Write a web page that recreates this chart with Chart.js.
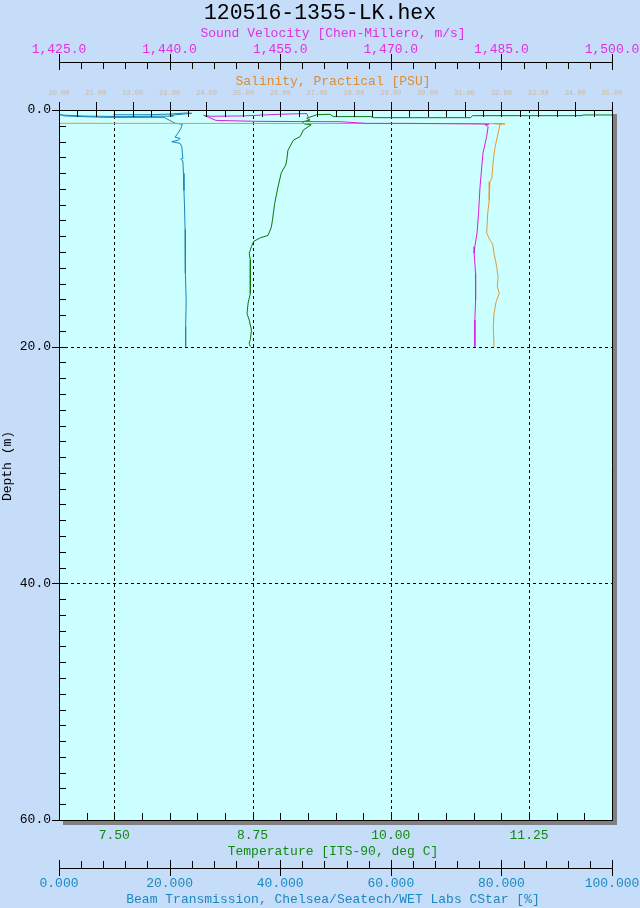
<!DOCTYPE html>
<html>
<head>
<meta charset="utf-8">
<title>120516-1355-LK.hex</title>
<script src="https://cdn.jsdelivr.net/npm/chart.js@4.4.1/dist/chart.umd.min.js"></script>
<style>
  html, body { margin: 0; padding: 0; background: #c5ddf9; }
  canvas { display: block; }
</style>
</head>
<body>
<canvas id="ctdChart" width="640" height="908"></canvas>
<script>
// Profiles: depth (m) and the value at that depth
const beamDepth = [0.40, 0.40, 0.34, 0.25, 0.28, 0.45, 0.51, 0.56, 0.51, 0.42, 0.34, 0.50, 0.62, 0.62, 1.00, 1.12, 1.20, 1.60,
    2.30, 2.40, 2.54, 2.68, 2.82, 3.10, 4.10, 4.15, 4.30, 5.35, 6.80, 8.20, 10.1, 11.8, 13.8, 16.1, 18.3, 20.0];
const beamValue = [9.8, 16.5, 20.1, 23.1, 24.0, 20.0, 20.7, 11.6, 4.4, 0.2, 0.0, 1.0, 8.0, 19.0, 20.5, 21.0, 22.3, 22.0,
    21.0, 21.9, 21.6, 20.4, 21.9, 22.2, 22.4, 22.0, 22.4, 22.5, 22.6, 22.7, 22.8, 22.8, 22.9, 23.0, 22.9, 22.9];

const tempDepth = [0.42, 0.42, 0.48, 0.48, 0.65, 0.65, 0.56, 0.56, 0.36, 0.40, 0.70, 0.85, 1.00, 1.18, 1.25, 1.69, 2.25,
    2.54, 3.40, 4.20, 4.65, 5.30, 6.50, 7.90, 9.30, 9.90, 10.6, 10.8, 11.1, 11.55, 12.1, 12.7, 13.8, 15.5, 16.3, 17.2,
    17.75, 18.6, 19.4, 19.7, 20.0];
const tempValue = [12.0, 11.74, 11.72, 10.74, 10.72, 9.85, 9.82, 9.48, 9.45, 9.33, 9.24, 9.27, 9.20, 9.22, 9.28, 9.21, 9.18,
    9.12, 9.07, 9.06, 9.05, 9.01, 8.98, 8.95, 8.93, 8.92, 8.89, 8.82, 8.76, 8.74, 8.72, 8.73, 8.73, 8.73, 8.71, 8.70,
    8.72, 8.74, 8.73, 8.72, 8.73];

const salDepth = [1.12, 1.15, 1.16, 1.14, 1.18, 1.15, 1.20, 1.27, 1.97, 3.10, 4.20, 5.80, 6.05, 7.60, 8.70, 10.4, 11.0,
    11.3, 12.1, 13.2, 14.1, 14.9, 15.5, 16.3, 17.2, 18.3, 20.0];
const salValue = [18.0, 31.4, 31.6, 31.9, 32.1, 31.8, 32.0, 31.96, 31.91, 31.83, 31.78, 31.74, 31.69, 31.67, 31.63, 31.60,
    31.69, 31.76, 31.80, 31.87, 31.91, 31.89, 31.94, 31.85, 31.80, 31.78, 31.80];

const svDepth = [0.62, 0.30, 0.36, 0.50, 0.53, 0.45, 0.62, 0.88, 0.96, 0.99, 1.13, 1.13, 1.18, 1.20, 1.25, 1.40, 2.25,
    3.66, 5.07, 6.50, 8.73, 10.4, 11.55, 12.1, 13.8, 16.06, 17.75, 20.0];
const svValue = [1458.8, 1458.6, 1455.0, 1450.0, 1445.5, 1444.6, 1445.3, 1446.3, 1452.0, 1463.1, 1466.7, 1472.6, 1482.1,
    1483.3, 1482.8, 1483.2, 1483.0, 1482.5, 1482.3, 1482.1, 1481.9, 1481.7, 1481.4, 1481.3, 1481.5, 1481.5, 1481.4, 1481.4];

// Axes: ranges, labelled ticks and minor tick spacing
const depthRange = [0, 60], depthMinor = 20 / 15;
const depthTicks = [0, 20, 40, 60];
const depthLabels = ['0.0', '20.0', '40.0', '60.0'];

const svRange = [1425, 1500], svMinor = 3;
const svTicks = [1425, 1440, 1455, 1470, 1485, 1500];
const svLabels = ['1,425.0', '1,440.0', '1,455.0', '1,470.0', '1,485.0', '1,500.0'];

const salRange = [20, 35], salMinor = 0.5;
const salTicks = [20, 21, 22, 23, 24, 25, 26, 27, 28, 29, 30, 31, 32, 33, 34, 35];
const salLabels = salTicks.map(v => v.toFixed(2));

const tempRange = [7, 12], tempMinor = 0.25;
const tempTicks = [7.5, 8.75, 10, 11.25];
const tempLabels = ['7.50', '8.75', '10.00', '11.25'];

const beamRange = [0, 100], beamMinor = 4;
const beamTicks = [0, 20, 40, 60, 80, 100];
const beamLabels = ['0.000', '20.000', '40.000', '60.000', '80.000', '100.000'];

const PAGE_BG = '#c5ddf9';
const PLOT_BG = '#ccffff';
const SV_COLOR = '#e030e0';
const SAL_COLOR = '#e08c30';
const TEMP_COLOR = '#108a10';
const BEAM_COLOR = '#1a88c0';
const MONO = "'Liberation Mono', 'DejaVu Sans Mono', monospace";

function toPoints(depths, values) {
    return depths.map((d, i) => ({ x: values[i], y: d }));
}

function steps(range, step) {
    const out = [];
    const n = Math.round((range[1] - range[0]) / step);
    for (let i = 0; i <= n; i++) out.push(range[0] + i * step);
    return out;
}

function vLine(ctx, x, y1, y2) {
    const px = Math.round(x) + 0.5;
    ctx.beginPath();
    ctx.moveTo(px, y1);
    ctx.lineTo(px, y2);
    ctx.stroke();
}

function hLine(ctx, x1, x2, y) {
    const py = Math.round(y) + 0.5;
    ctx.beginPath();
    ctx.moveTo(x1, py);
    ctx.lineTo(x2, py);
    ctx.stroke();
}

function text(ctx, str, x, y, color, size, align) {
    ctx.fillStyle = color;
    ctx.font = size + 'px ' + MONO;
    ctx.textAlign = align || 'center';
    ctx.textBaseline = 'middle';
    ctx.fillText(str, x, y);
}

// Horizontal axis with ticks on a line (top sound velocity, bottom beam)
function lineAxis(ctx, scale, area, y0, minor, ticks, labels, dir, labelY, color) {
    hLine(ctx, area.left, area.right + 1, y0);
    steps([scale.min, scale.max], minor).forEach(v => vLine(ctx, scale.getPixelForValue(v), y0, y0 + dir * 7));
    ticks.forEach((v, i) => {
        const x = scale.getPixelForValue(v);
        vLine(ctx, x, y0 - 8, y0 + 8);
        text(ctx, labels[i], x, labelY, color, 13);
    });
}

const ctdAxes = {
    id: 'ctdAxes',
    beforeDraw(chart) {
        const { ctx, chartArea: area } = chart;
        const w = area.right - area.left, h = area.bottom - area.top;
        ctx.save();
        ctx.fillStyle = PAGE_BG;
        ctx.fillRect(0, 0, chart.width, chart.height);
        ctx.fillStyle = '#808080';   // drop shadow
        ctx.fillRect(area.left + 4, area.top + 4, w + 1, h + 1);
        ctx.fillStyle = PLOT_BG;
        ctx.fillRect(area.left, area.top, w, h);
        ctx.restore();
    },
    beforeDatasetsDraw(chart) {
        const { ctx, chartArea: area, scales } = chart;
        ctx.save();
        ctx.strokeStyle = '#000';
        ctx.lineWidth = 1;
        ctx.setLineDash([3, 3]);
        tempTicks.forEach(v => vLine(ctx, scales.xTemp.getPixelForValue(v), area.top, area.bottom));
        depthTicks.slice(1, -1).forEach(v => hLine(ctx, area.left, area.right, scales.y.getPixelForValue(v)));
        ctx.restore();
    },
    afterDatasetsDraw(chart) {
        const { ctx, chartArea: area, scales } = chart;
        ctx.save();
        ctx.strokeStyle = '#000';
        ctx.lineWidth = 1;

        // frame
        hLine(ctx, area.left, area.right + 1, area.top);
        hLine(ctx, area.left, area.right + 1, area.bottom);
        vLine(ctx, area.left, area.top, area.bottom + 1);
        vLine(ctx, area.right, area.top, area.bottom + 1);

        // depth axis
        const y = scales.y;
        steps(depthRange, depthMinor).forEach(v => hLine(ctx, area.left, area.left + 7, y.getPixelForValue(v)));
        depthTicks.forEach((v, i) => {
            const py = y.getPixelForValue(v);
            hLine(ctx, area.left - 7, area.left, py);
            text(ctx, depthLabels[i], area.left - 8, py, '#000', 13, 'right');
        });
        ctx.save();
        ctx.translate(8, 466);
        ctx.rotate(-Math.PI / 2);
        text(ctx, 'Depth (m)', 0, 0, '#000', 13);
        ctx.restore();

        // sound velocity (top line axis)
        lineAxis(ctx, scales.xSv, area, 62, svMinor, svTicks, svLabels, 1, 50, SV_COLOR);

        // salinity (on the top edge of the plot)
        const sal = scales.xSal;
        steps(salRange, salMinor).forEach(v => vLine(ctx, sal.getPixelForValue(v), area.top, area.top + 7));
        salTicks.forEach((v, i) => {
            const x = sal.getPixelForValue(v);
            vLine(ctx, x, area.top - 8, area.top + 7);
            text(ctx, salLabels[i], x, 93, '#c9b8a6', 7);
        });

        // temperature (on the bottom edge of the plot)
        const temp = scales.xTemp;
        steps(tempRange, tempMinor).forEach(v => vLine(ctx, temp.getPixelForValue(v), area.bottom - 7, area.bottom));
        tempTicks.forEach((v, i) => text(ctx, tempLabels[i], temp.getPixelForValue(v), 836, TEMP_COLOR, 13));

        // beam transmission (bottom line axis)
        lineAxis(ctx, scales.xBeam, area, 868, beamMinor, beamTicks, beamLabels, -1, 884, BEAM_COLOR);

        // titles
        text(ctx, '120516-1355-LK.hex', 320, 13, '#000', 21.5);
        text(ctx, 'Sound Velocity [Chen-Millero, m/s]', 333, 34, SV_COLOR, 13);
        text(ctx, 'Salinity, Practical [PSU]', 333, 82, SAL_COLOR, 13);
        text(ctx, 'Temperature [ITS-90, deg C]', 333, 852, TEMP_COLOR, 13);
        text(ctx, 'Beam Transmission, Chelsea/Seatech/WET Labs CStar [%]', 333, 900, BEAM_COLOR, 13);
        ctx.restore();
    }
};

function profile(depths, values, axisId, color) {
    return {
        data: toPoints(depths, values),
        xAxisID: axisId,
        yAxisID: 'y',
        borderColor: color,
        borderWidth: 1,
        pointRadius: 0,
        showLine: true,
        tension: 0,
        fill: false
    };
}

const hiddenX = (range) => ({ type: 'linear', axis: 'x', min: range[0], max: range[1], display: false });

new Chart(document.getElementById('ctdChart').getContext('2d'), {
    type: 'scatter',
    data: {
        datasets: [
            profile(svDepth, svValue, 'xSv', '#d820d8'),
            profile(salDepth, salValue, 'xSal', '#e09a38'),
            profile(tempDepth, tempValue, 'xTemp', '#0c760c'),
            profile(beamDepth, beamValue, 'xBeam', '#1a84b8')
        ]
    },
    options: {
        responsive: false,
        animation: false,
        events: [],
        layout: { padding: { left: 59, top: 110, right: 28, bottom: 88 } },
        scales: {
            y: { type: 'linear', min: depthRange[0], max: depthRange[1], reverse: true, display: false },
            xSv: hiddenX(svRange),
            xSal: hiddenX(salRange),
            xTemp: hiddenX(tempRange),
            xBeam: hiddenX(beamRange)
        },
        plugins: {
            legend: { display: false },
            tooltip: { enabled: false }
        }
    },
    plugins: [ctdAxes]
});
</script>
</body>
</html>
